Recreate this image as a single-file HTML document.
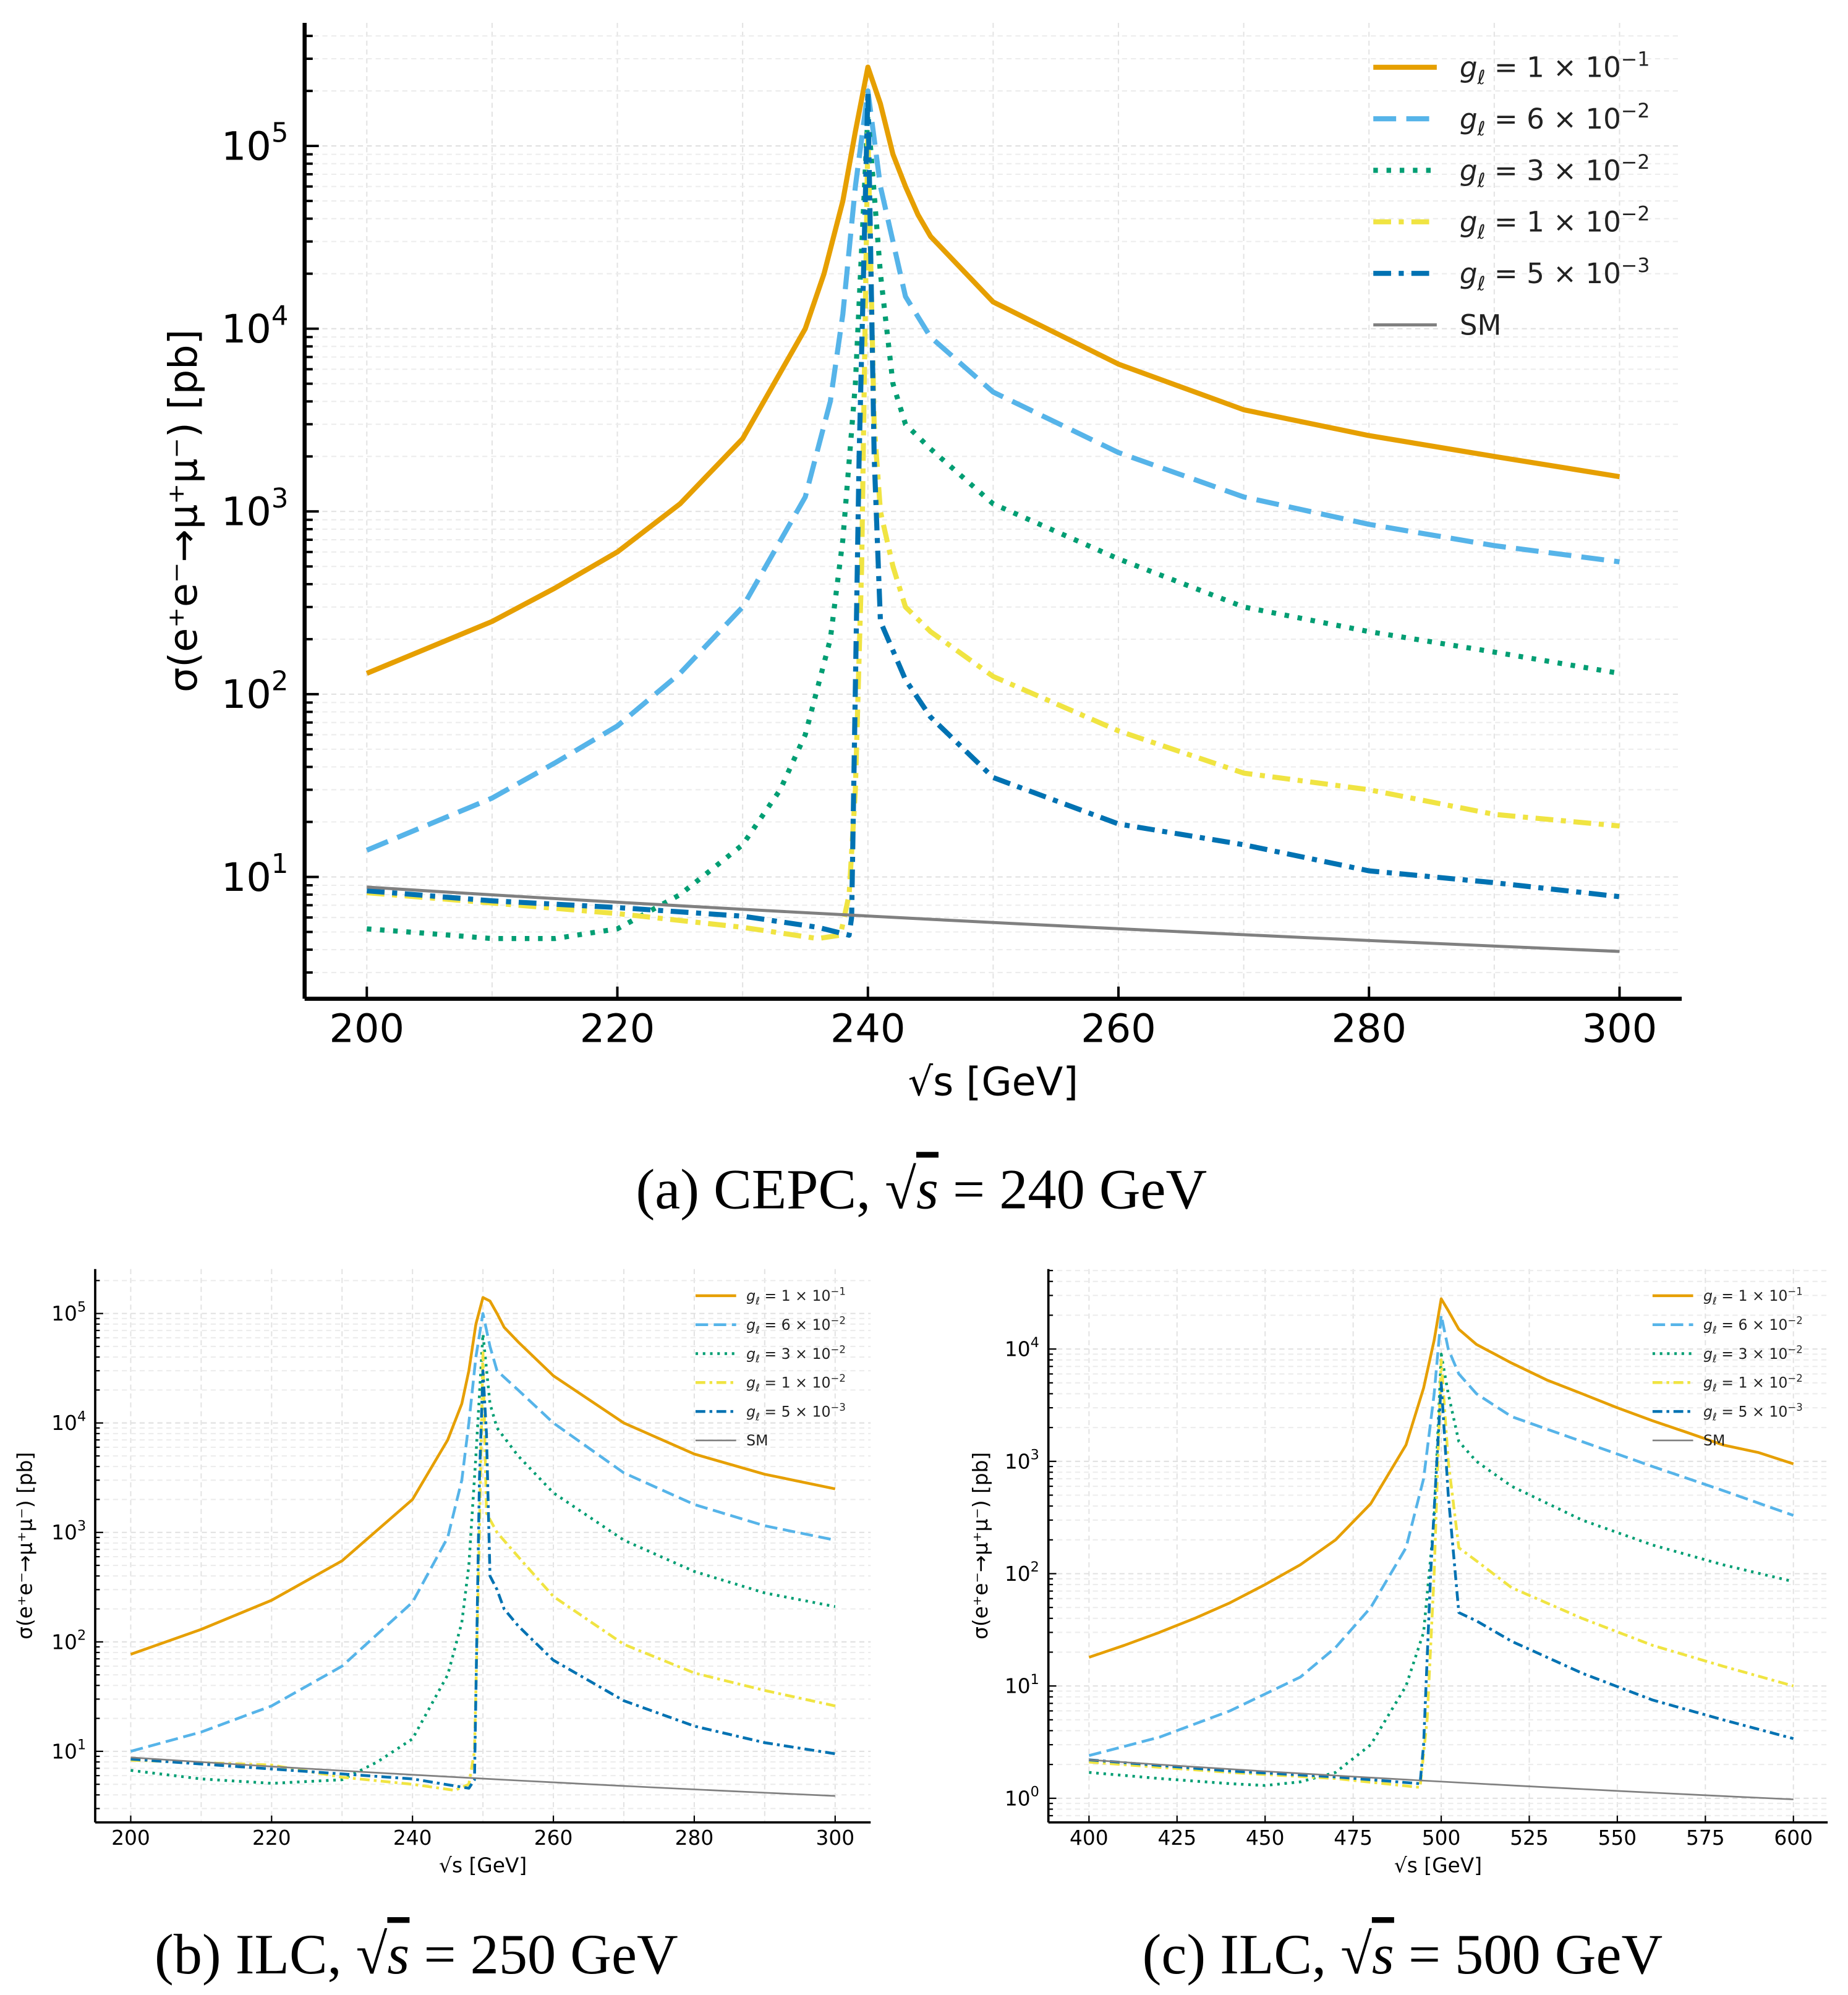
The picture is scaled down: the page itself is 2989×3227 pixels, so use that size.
<!DOCTYPE html>
<html><head><meta charset="utf-8"><style>
html,body{margin:0;padding:0;background:#fff;}
svg{display:block;}
text{font-family:"DejaVu Sans","Liberation Sans",sans-serif;}
.cap{font-family:"Liberation Serif",serif;}
</style></head><body>
<svg id="s" width="2989" height="3227" viewBox="0 0 1456 1572" preserveAspectRatio="none" xmlns="http://www.w3.org/2000/svg">
<rect width="1456" height="1572" fill="#fff"/>
<text class="cap" x="726" y="952" font-size="45" text-anchor="middle">(a) CEPC, √<tspan font-style="italic" text-decoration="overline">s</tspan> = 240 GeV</text>
<text class="cap" x="328" y="1555" font-size="45" text-anchor="middle">(b) ILC, √<tspan font-style="italic" text-decoration="overline">s</tspan> = 250 GeV</text>
<text class="cap" x="1105" y="1555" font-size="45" text-anchor="middle">(c) ILC, √<tspan font-style="italic" text-decoration="overline">s</tspan> = 500 GeV</text>
</svg>
<script>
const NS="http://www.w3.org/2000/svg",S=document.getElementById('s');
function el(t,a,txt){const e=document.createElementNS(NS,t);for(const k in a)e.setAttribute(k,a[k]);if(txt!==undefined)e.textContent=txt;S.appendChild(e);return e;}
const C=['#E69F00','#56B4E9','#009E73','#F0E442','#0072B2','#808080'];
function plot(P){
 const X=v=>P.x0+(v-P.gx0)*(P.x1-P.x0)/(P.gx1-P.gx0);
 const Y=v=>P.yref-(Math.log10(v)-P.lref)*P.dec;
 const lw=P.lw, k=P.k;
 for(let g=P.gx0;g<=P.gx1+1e-6;g+=P.gstep)el('line',{x1:X(g),x2:X(g),y1:P.top,y2:P.bot,stroke:'#e3e3e3','stroke-width':1,'stroke-dasharray':'4,3'});
 for(let d=P.dmin;d<=P.dmax;d++)for(let m=1;m<10;m++){const y=Y(m*Math.pow(10,d));if(y>P.top&&y<P.bot){el('line',{x1:P.left,x2:P.right,y1:y,y2:y,stroke:m==1?'#e0e0e0':'#ececec','stroke-width':1,'stroke-dasharray':'4,3'});
   el('line',{x1:P.left,x2:P.left+(m==1?7*k:4*k),y1:y,y2:y,stroke:'#000','stroke-width':1.2*k});}}
 const dash=['none',`${4.5*lw},${2*lw}`,`${0.9*lw},${1.7*lw}`,`${3.5*lw},${1.5*lw},${1*lw},${1.5*lw}`,`${3.5*lw},${1.5*lw},${1*lw},${1.5*lw}`,'none'];
 P.data.forEach((d,i)=>{let s='';for(let j=0;j<d.length;j+=2)s+=(j?'L':'M')+X(d[j]).toFixed(2)+','+Y(d[j+1]).toFixed(2);
  el('path',{d:s,fill:'none',stroke:C[i],'stroke-width':i==5?lw*0.6:lw,'stroke-dasharray':dash[i],'stroke-linecap':'butt','stroke-linejoin':'round'});});
 el('line',{x1:P.left,x2:P.left,y1:P.top,y2:P.bot,stroke:'#000','stroke-width':2*k});
 el('line',{x1:P.left,x2:P.right,y1:P.bot,y2:P.bot,stroke:'#000','stroke-width':2*k});
 for(let g=P.gx0;g<=P.gx1+1e-6;g+=P.tstep){el('line',{x1:X(g),x2:X(g),y1:P.bot,y2:P.bot-6*k,stroke:'#000','stroke-width':1.2*k});
  el('text',{x:X(g),y:P.bot+P.fs*1.1,'font-size':P.fs,'text-anchor':'middle'},String(g));}
 for(let d=P.dmin;d<=P.dmax;d++){const y=Y(Math.pow(10,d));if(y>P.top&&y<P.bot){const t=el('text',{x:P.left-8*k,y:y+P.fs*0.35,'font-size':P.fs,'text-anchor':'end'},'10');
  const ts=document.createElementNS(NS,'tspan');ts.setAttribute('font-size',P.fs*0.68);ts.setAttribute('dy',-P.fs*0.45);ts.textContent=String(d);t.appendChild(ts);}}
 el('text',{x:(P.left+P.right)/2,y:P.bot+P.fs*2.45,'font-size':P.fs,'text-anchor':'middle'},'√s [GeV]');
 el('text',{x:P.ylx,y:(P.top+P.bot)/2,'font-size':P.fs,'text-anchor':'middle',transform:`rotate(-90 ${P.ylx} ${(P.top+P.bot)/2})`},'σ(e⁺e⁻→μ⁺μ⁻) [pb]');
 const labs=[['1','−1'],['6','−2'],['3','−2'],['1','−2'],['5','−3']];
 for(let i=0;i<6;i++){const y=P.ly0+i*P.ldy;
  el('line',{x1:P.lx0,x2:P.lx1,y1:y,y2:y,stroke:C[i],'stroke-width':i==5?lw*0.6:lw,'stroke-dasharray':dash[i]});
  if(i<5){const t=el('text',{x:P.lt,y:y+P.lfs*0.35,'font-size':P.lfs,fill:'#222'});
   t.innerHTML=`<tspan font-style="italic">g</tspan><tspan font-style="italic" font-size="${P.lfs*0.7}" dy="${P.lfs*0.25}">ℓ</tspan><tspan dy="${-P.lfs*0.25}"> = ${labs[i][0]} × 10</tspan><tspan font-size="${P.lfs*0.7}" dy="${-P.lfs*0.4}">${labs[i][1]}</tspan>`;}
  else el('text',{x:P.lt,y:y+P.lfs*0.35,'font-size':P.lfs,fill:'#222'},'SM');}
}
function sm(a,x0,x1,st){const r=[];for(let x=x0;x<=x1;x+=st)r.push(x,a*Math.pow(x0/x,2));return r;}
plot({left:240,right:1325,top:18,bot:787,x0:289,x1:1276,gx0:200,gx1:300,gstep:10,tstep:20,yref:691,lref:1,dec:144,dmin:0,dmax:5,lw:4,k:1.6,fs:31,ylx:155,
 lx0:1082,lx1:1132,lt:1150,ly0:53,ldy:40.6,lfs:22,
 data:[
 [200,130,210,250,215,380,220,600,225,1100,230,2500,235,10000,236.5,20000,238,50000,239,120000,240,270000,241,170000,242,90000,243,60000,244,42000,245,32000,250,14000,260,6400,270,3600,280,2600,290,2000,300,1550],
 [200,14,210,27,215,42,220,67,225,130,230,300,235,1200,237,4000,238,12000,239,60000,240,200000,241,60000,242,30000,243,15000,245,9000,250,4500,260,2100,270,1200,280,850,290,650,300,530],
 [200,5.2,205,4.9,210,4.6,215,4.6,220,5.2,225,8,230,15,233,30,235,60,237,200,238,700,239,5000,240,150000,241,20000,242,5000,243,3000,245,2200,250,1100,260,550,270,300,280,220,290,170,300,130],
 [200,8.2,210,7.2,220,6.3,230,5.3,236,4.6,237.8,4.8,238.5,8,239,30,239.5,500,240,120000,240.5,3000,241,1000,242,500,243,300,245,220,250,125,260,63,270,37,280,30,290,22,300,19],
 [200,8.4,210,7.4,220,6.8,230,6.1,236,5.3,238.5,4.8,238.7,6,239.3,2000,240,200000,240.5,2000,241,250,243,120,245,75,250,35,260,19.5,270,15,280,10.8,290,9.3,300,7.8],
 sm(8.8,200,300,5)]});
plot({left:75,right:686,top:1000,bot:1436,x0:103,x1:658,gx0:200,gx1:300,gstep:10,tstep:20,yref:1380,lref:1,dec:86.25,dmin:0,dmax:5,lw:2.2,k:0.9,fs:16,ylx:25,
 lx0:548,lx1:580,lt:588,ly0:1021,ldy:22.8,lfs:11.5,
 data:[
 [200,77,210,130,220,240,230,550,240,2000,245,7000,247,15000,248,30000,249,80000,250,140000,251,130000,252,100000,253,75000,255,55000,260,27000,270,10000,280,5200,290,3400,300,2500],
 [200,10,210,15,220,26,230,60,240,230,245,900,247,3000,248,10000,249,40000,250,100000,251,50000,252,30000,255,20000,260,10000,270,3500,280,1800,290,1150,300,850],
 [200,6.7,210,5.6,220,5.1,230,5.5,235,8,240,13,245,50,247,150,248,500,249,5000,250,65000,251,15000,252,9000,255,5000,260,2300,270,850,280,440,290,280,300,210],
 [200,8.3,220,7.5,230,5.8,240,5,246,4.4,248,5,248.8,10,249.5,1000,250,45000,250.5,1500,252,1000,255,600,260,260,270,95,280,52,290,36,300,26],
 [200,8.5,220,6.9,240,5.6,248,4.6,248.8,5.5,249.5,3000,250,30000,250.5,8000,251,400,252,300,253,200,255,140,260,68,270,29,280,17,290,12,300,9.5],
 sm(8.8,200,300,5)]});
plot({left:826,right:1440,top:1000,bot:1436,x0:858,x1:1413,gx0:400,gx1:600,gstep:25,tstep:25,yref:1417,lref:0,dec:88.5,dmin:-1,dmax:5,lw:2.2,k:0.9,fs:16,ylx:778,
 lx0:1302,lx1:1334,lt:1342,ly0:1021,ldy:22.8,lfs:11.5,
 data:[
 [400,18,410,23,420,30,430,40,440,55,450,80,460,120,470,200,480,420,490,1400,495,4500,498,12000,500,28000,502,22000,505,15000,510,11000,520,7500,530,5300,540,4000,550,3000,560,2300,570,1800,580,1400,590,1200,600,950],
 [400,2.4,420,3.5,440,6,460,12,470,22,480,50,490,170,495,700,498,4000,500,20000,502,10000,505,6000,510,4000,520,2500,540,1500,560,900,580,550,600,330],
 [400,1.7,420,1.5,440,1.35,450,1.3,460,1.4,470,1.7,480,3,490,10,495,30,498,300,500,9000,502,4000,505,1500,510,1000,520,600,540,300,560,180,580,120,600,85],
 [400,2.1,440,1.7,470,1.5,494,1.25,496,5,498,100,500,8000,502,1000,505,170,510,130,520,75,540,40,560,23,580,15,600,10],
 [400,2.2,440,1.75,470,1.55,494,1.35,495,3,497,100,500,5000,502,500,505,45,510,38,520,25,540,13,560,7.5,580,5,600,3.4],
 sm(2.2,400,600,10)]});
</script>
</body></html>
